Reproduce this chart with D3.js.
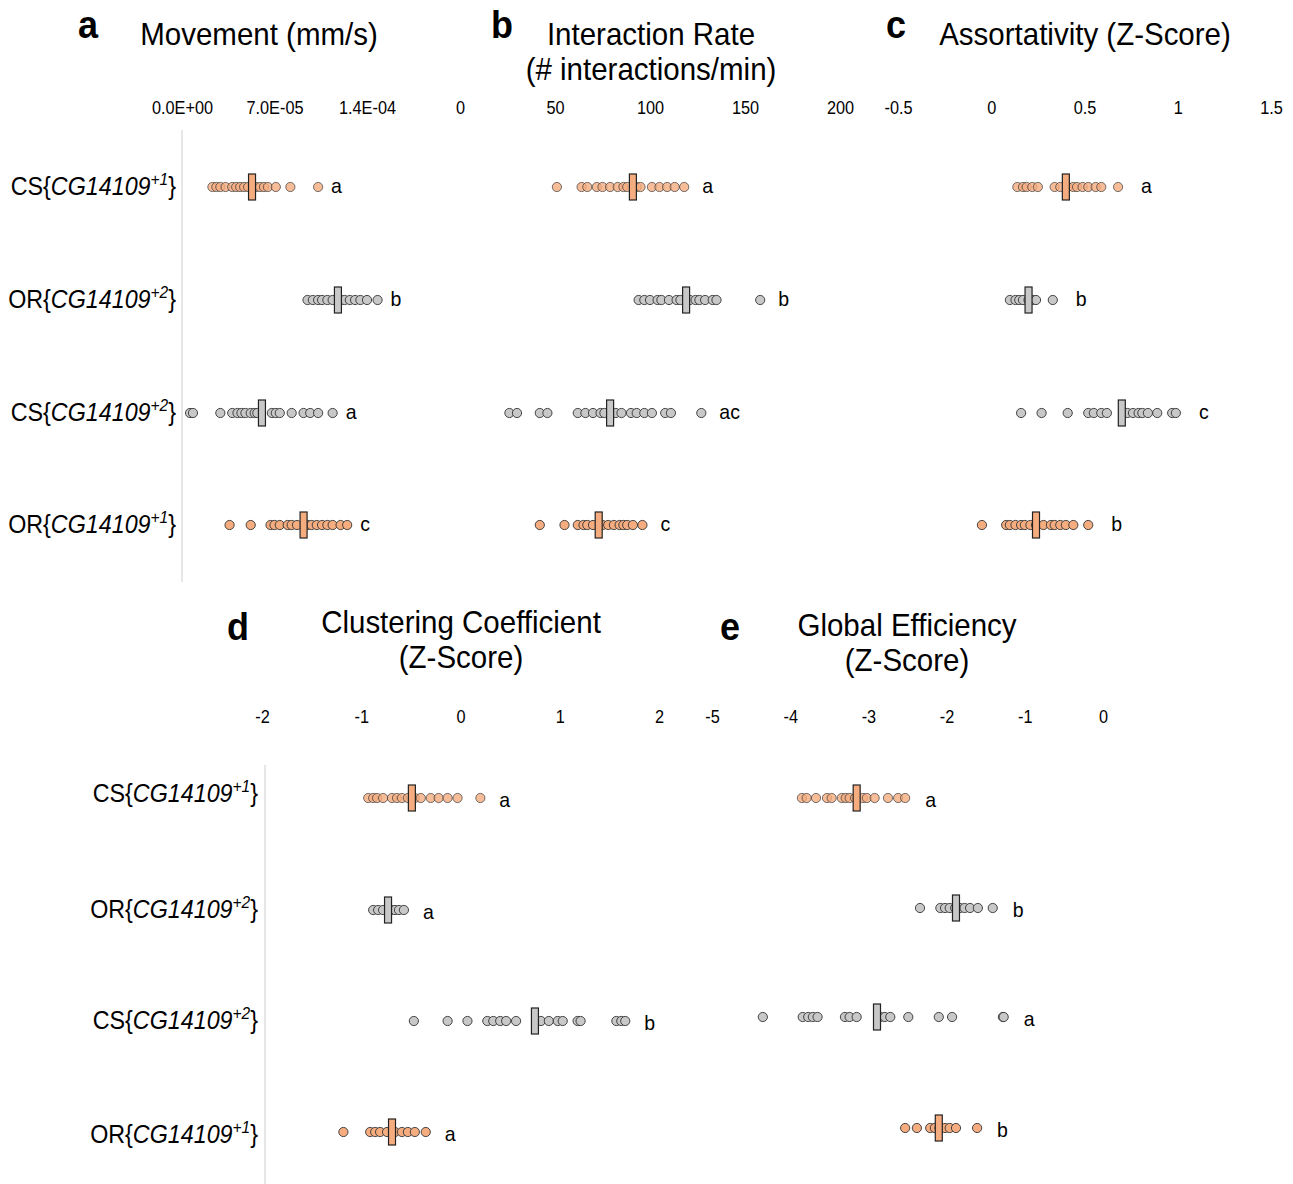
<!DOCTYPE html>
<html>
<head>
<meta charset="utf-8">
<script src="https://cdn.jsdelivr.net/npm/d3@7"></script>
<style>
  body { margin: 0; background: #fff; }
  text { font-family: "Liberation Sans", Arial, Helvetica, sans-serif; fill: #000; }
</style>
</head>
<body>
<svg width="1293" height="1184"></svg>
<script>
// Groups (same order in every panel)
let strains = ["CS", "OR", "CS", "OR"];
let alleles = ["+1", "+2", "+2", "+1"];

// a - Movement (mm/s)
let movementTicks = [0, 7e-5, 1.4e-4];
let movementCS1 = [2.3e-5, 2.6e-5, 2.9e-5, 3.3e-5, 3.8e-5, 4.1e-5, 4.4e-5, 4.7e-5, 5.0e-5, 5.6e-5, 5.9e-5, 6.2e-5, 6.5e-5, 7.1e-5, 8.2e-5, 1.03e-4];
let movementOR2 = [9.5e-5, 9.9e-5, 1.03e-4, 1.06e-4, 1.1e-4, 1.14e-4, 1.2e-4, 1.23e-4, 1.27e-4, 1.31e-4, 1.35e-4, 1.4e-4, 1.48e-4];
let movementCS2 = [6.1e-6, 8.3e-6, 2.9e-5, 3.8e-5, 4.2e-5, 4.5e-5, 4.8e-5, 5.2e-5, 5.5e-5, 5.7e-5, 6.8e-5, 7.1e-5, 7.4e-5, 8.3e-5, 9.2e-5, 9.7e-5, 1.03e-4, 1.14e-4];
let movementOR1 = [3.6e-5, 5.2e-5, 6.7e-5, 7.0e-5, 7.4e-5, 8.0e-5, 8.3e-5, 8.7e-5, 9.5e-5, 9.8e-5, 1.02e-4, 1.06e-4, 1.1e-4, 1.14e-4, 1.2e-4, 1.25e-4];
let movementMedians = [5.3e-5, 1.18e-4, 6.05e-5, 9.2e-5];
let movementLetters = ["a", "b", "a", "c"];

// b - Interaction rate
let interactionTicks = [0, 50, 100, 150, 200];
let interactionCS1 = [51, 64, 67, 72, 75, 79, 83, 86, 88, 93, 95, 101, 105, 109, 113, 118];
let interactionOR2 = [94, 97, 100, 104, 106, 110, 114, 116, 121, 124, 126, 129, 133, 135, 158];
let interactionCS2 = [26, 30, 42, 46, 62, 66, 70, 74, 76, 82, 85, 90, 93, 97, 101, 108, 111, 127];
let interactionOR1 = [42, 55, 62, 65, 67, 70, 75, 78, 81, 84, 86, 88, 91, 96];
let interactionMedians = [91, 119, 79, 73];
let interactionLetters = ["a", "b", "ac", "c"];

// c - Assortativity
let assortTicks = [-0.5, 0, 0.5, 1, 1.5];
let assortCS1 = [0.14, 0.17, 0.19, 0.22, 0.25, 0.34, 0.37, 0.41, 0.44, 0.46, 0.49, 0.52, 0.56, 0.59, 0.68];
let assortOR2 = [0.10, 0.13, 0.15, 0.17, 0.20, 0.22, 0.24, 0.33];
let assortCS2 = [0.16, 0.27, 0.41, 0.52, 0.55, 0.59, 0.62, 0.73, 0.76, 0.79, 0.81, 0.84, 0.89, 0.97, 0.99];
let assortOR1 = [-0.05, 0.08, 0.10, 0.13, 0.16, 0.18, 0.21, 0.24, 0.28, 0.32, 0.34, 0.37, 0.40, 0.44, 0.52];
let assortMedians = [0.40, 0.20, 0.70, 0.24];
let assortLetters = ["a", "b", "c", "b"];

// d - Clustering coefficient
let clusterTicks = [-2, -1, 0, 1, 2];
let clusterCS1 = [-0.93, -0.88, -0.84, -0.78, -0.69, -0.64, -0.59, -0.53, -0.46, -0.40, -0.30, -0.22, -0.13, -0.03, 0.20];
let clusterOR2 = [-0.88, -0.83, -0.78, -0.70, -0.66, -0.62, -0.57];
let clusterCS2 = [-0.47, -0.13, 0.07, 0.27, 0.33, 0.40, 0.46, 0.56, 0.81, 0.89, 0.98, 1.03, 1.18, 1.21, 1.57, 1.62, 1.66];
let clusterOR1 = [-1.18, -0.91, -0.86, -0.81, -0.74, -0.66, -0.59, -0.53, -0.46, -0.35];
let clusterMedians = [-0.49, -0.73, 0.75, -0.69];
let clusterLetters = ["a", "a", "b", "a"];

// e - Global efficiency
let effTicks = [-5, -4, -3, -2, -1, 0];
let effCS1 = [-3.85, -3.79, -3.67, -3.53, -3.47, -3.34, -3.29, -3.24, -3.17, -3.07, -3.02, -2.92, -2.75, -2.62, -2.53];
let effOR2 = [-2.34, -2.08, -2.02, -1.96, -1.89, -1.83, -1.77, -1.70, -1.60, -1.41];
let effCS2 = [-4.35, -3.84, -3.77, -3.71, -3.65, -3.30, -3.24, -3.15, -2.85, -2.79, -2.72, -2.49, -2.10, -1.93, -1.28, -1.27];
let effOR1 = [-2.53, -2.38, -2.21, -2.15, -2.09, -2.02, -1.96, -1.88, -1.61];
let effMedians = [-3.15, -1.88, -2.89, -2.10];
let effLetters = ["a", "b", "a", "b"];

let svg = d3.select("svg");

let orange = "#f5ad80";
let grey = "#c8c8c8";
let colorFor = a => a === "+1" ? orange : grey;
let stretch = 1.08; // text in the figure is a bit taller than normal

// exponent format like 7.0E-05
function sciFormat(v) {
  if (v === 0) return "0.0E+00";
  let s = v.toExponential(1).toUpperCase();
  let parts = s.split("E");
  let sign = parts[1][0];
  let exp = parts[1].slice(1).padStart(2, "0");
  return parts[0] + "E" + sign + exp;
}

// place a text at x,y with the vertical stretch
function putText(parent, x, y) {
  return parent.append("text")
    .attr("transform", "translate(" + x + "," + y + ") scale(1," + stretch + ")");
}

let panels = [
  { letter: "a", title: ["Movement (mm/s)"], titleX: 259, letterX: 88, top: true,
    domain: [0, 1.4e-4], range: [182, 367], ticks: movementTicks, fmt: sciFormat,
    series: [movementCS1, movementOR2, movementCS2, movementOR1], medians: movementMedians,
    sig: movementLetters, sigGap: 13, rows: [187, 300, 413, 525] },
  { letter: "b", title: ["Interaction Rate", "(# interactions/min)"], titleX: 651, letterX: 502, top: true,
    domain: [0, 200], range: [460, 840], ticks: interactionTicks, fmt: d3.format("d"),
    series: [interactionCS1, interactionOR2, interactionCS2, interactionOR1], medians: interactionMedians,
    sig: interactionLetters, sigGap: 18, rows: [187, 300, 413, 525] },
  { letter: "c", title: ["Assortativity (Z-Score)"], titleX: 1085, letterX: 896, top: true,
    domain: [-0.5, 1.5], range: [898, 1271], ticks: assortTicks, fmt: d3.format(""),
    series: [assortCS1, assortOR2, assortCS2, assortOR1], medians: assortMedians,
    sig: assortLetters, sigGap: 23, rows: [187, 300, 413, 525] },
  { letter: "d", title: ["Clustering Coefficient", "(Z-Score)"], titleX: 461, letterX: 238, top: false,
    domain: [-2, 2], range: [262, 659], ticks: clusterTicks, fmt: d3.format("d"),
    series: [clusterCS1, clusterOR2, clusterCS2, clusterOR1], medians: clusterMedians,
    sig: clusterLetters, sigGap: 19, rows: [798, 910, 1021, 1132] },
  { letter: "e", title: ["Global Efficiency", "(Z-Score)"], titleX: 907, letterX: 730, top: false,
    domain: [-5, 0], range: [712, 1103], ticks: effTicks, fmt: d3.format("d"),
    series: [effCS1, effOR2, effCS2, effOR1], medians: effMedians,
    sig: effLetters, sigGap: 20, rows: [798, 908, 1017, 1128] }
];

// d3.format gives a unicode minus, the figure uses a plain hyphen
function plain(f) { return v => f(v).replace("\u2212", "-"); }

panels.forEach(function(p) {
  let x = d3.scaleLinear().domain(p.domain).range(p.range);
  let g = svg.append("g");

  let letterY = p.top ? 38 : 640;
  let titleY = p.top ? 45 : (p.letter === "d" ? 633 : 636);
  let tickY = p.top ? 114 : 723;

  putText(g, p.letterX, letterY)
    .attr("text-anchor", "middle")
    .style("font-size", "36px").style("font-weight", "bold")
    .text(p.letter);

  p.title.forEach(function(t, i) {
    putText(g, p.titleX, titleY + i * 35)
      .attr("text-anchor", "middle")
      .style("font-size", "29.5px")
      .text(t);
  });

  // tick labels only
  let axis = g.append("g")
    .attr("transform", "translate(0," + tickY + ")")
    .call(d3.axisTop(x).tickValues(p.ticks).tickSize(0).tickPadding(0).tickFormat(plain(p.fmt)));
  axis.select(".domain").remove();
  axis.selectAll("text")
    .attr("fill", "#000")
    .attr("transform", "scale(1," + stretch + ")")
    .style("font-size", "16.3px")
    .style("font-family", "'Liberation Sans', Arial, sans-serif");

  p.series.forEach(function(vals, i) {
    let y = p.rows[i];
    let fill = colorFor(alleles[i]);
    let row = g.append("g");

    row.selectAll("circle")
      .data(vals)
      .enter()
      .append("circle")
      .attr("cx", d => x(d))
      .attr("cy", y)
      .attr("r", 4.6)
      .attr("fill", fill)
      .attr("stroke", "#333")
      .attr("stroke-width", 0.9)
      .attr("fill-opacity", i === 0 ? 0.8 : 1)
      .attr("stroke-opacity", i === 0 ? 0.75 : 1);

    row.append("rect")
      .attr("x", x(p.medians[i]) - 3.5)
      .attr("y", y - 13)
      .attr("width", 7)
      .attr("height", 26)
      .attr("fill", fill)
      .attr("stroke", "#222")
      .attr("stroke-width", 1.2);

    putText(row, x(d3.max(vals)) + p.sigGap, y + (p.top ? 6 : 9))
      .style("font-size", "19.5px")
      .text(p.sig[i]);
  });
});

// group labels + separator lines
function groupLabels(xRight, rows, lineX, lineTop, lineBottom) {
  svg.append("line")
    .attr("x1", lineX).attr("x2", lineX)
    .attr("y1", lineTop).attr("y2", lineBottom)
    .attr("stroke", "#dedede").attr("stroke-width", 1.5);

  rows.forEach(function(y, i) {
    let t = putText(svg, xRight, y + 8)
      .attr("text-anchor", "end")
      .style("font-size", "23.3px");
    t.append("tspan").text(strains[i] + "{");
    t.append("tspan").style("font-style", "italic").text("CG14109");
    t.append("tspan").style("font-style", "italic").style("font-size", "15.5px")
      .attr("dy", -9).text(alleles[i]);
    t.append("tspan").attr("dy", 9).text("}");
  });
}

groupLabels(176, [187, 300, 413, 525], 182, 130, 582);
groupLabels(258, [794, 910, 1021, 1135], 265, 765, 1184);
</script>
</body>
</html>
